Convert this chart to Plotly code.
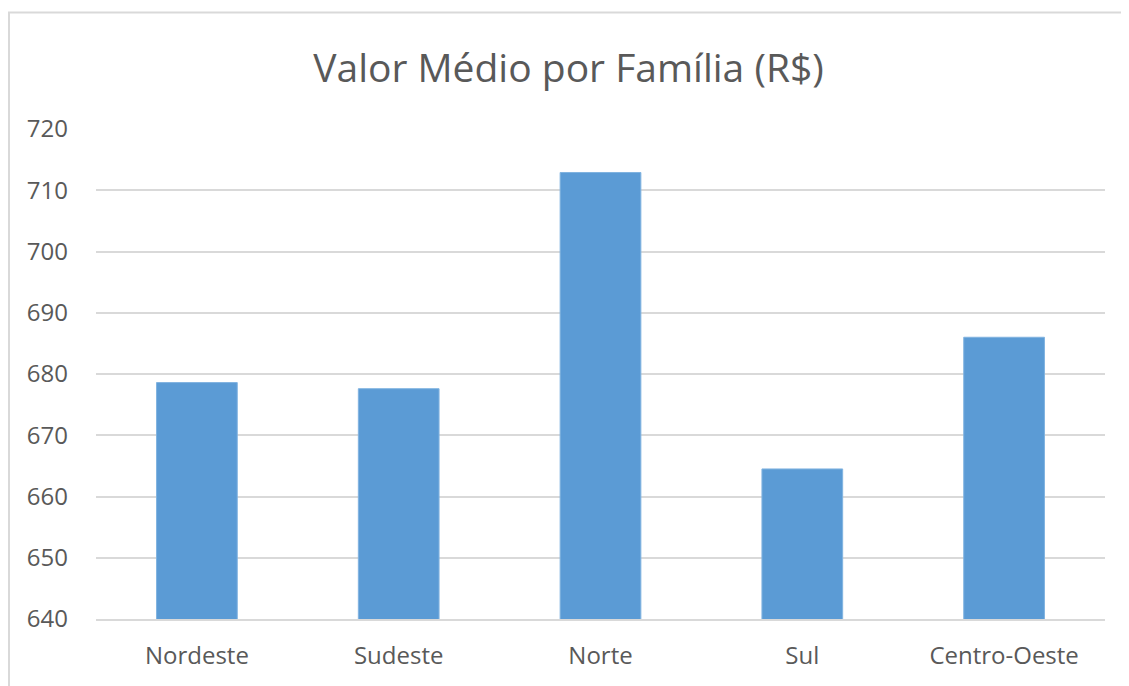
import plotly.graph_objects as go

categories = ["Nordeste", "Sudeste", "Norte", "Sul", "Centro-Oeste"]
values = [678.6, 677.6, 712.9, 664.5, 686.0]
y_ticks = [640, 650, 660, 670, 680, 690, 700, 710, 720]

# page body has an 8px margin, so the figure is sized/offset accordingly
W, H = 1121, 678
ml, mr, mt, mb = 88, 24, 121, 66.5

fig = go.Figure(go.Bar(
    x=categories, y=values,
    marker=dict(color="#5B9BD5", line=dict(color="#80B3E0", width=1)),
    hoverinfo="x+y",
))

pw = W - ml - mr
ph = H - mt - mb
def px_x(p):
    return (p - ml) / pw
def px_y(p):
    return (H - mb - p) / ph

fig.update_layout(
    width=W, height=H,
    margin=dict(l=ml, r=mr, t=mt, b=mb),
    paper_bgcolor="white", plot_bgcolor="white",
    font=dict(family="Open Sans, Noto Sans, sans-serif", color="#595959"),
    title=dict(text="Valor Médio por Família (R$)", x=0.5, xanchor="center",
               y=1 - 60 / H, yanchor="middle",
               font=dict(size=39, color="#595959")),
    bargap=0.6,
    showlegend=False,
    xaxis=dict(showgrid=False, showline=True, linecolor="#d9d9d9", linewidth=2,
               tickfont=dict(size=24, color="#595959"), ticks="",
               ticklabelstandoff=14),
    yaxis=dict(range=[640, 720], tickvals=y_ticks, showgrid=True,
               gridcolor="#d9d9d9", gridwidth=2, zeroline=False, showline=False,
               tickfont=dict(size=24, color="#595959"), ticks="",
               ticklabelstandoff=27),
    shapes=[dict(type="rect", xref="paper", yref="paper",
                 x0=px_x(1), x1=px_x(1400), y0=px_y(900), y1=px_y(4.5),
                 line=dict(color="#d9d9d9", width=2), fillcolor="rgba(0,0,0,0)",
                 layer="below")],
)

fig.write_html("out.html")
